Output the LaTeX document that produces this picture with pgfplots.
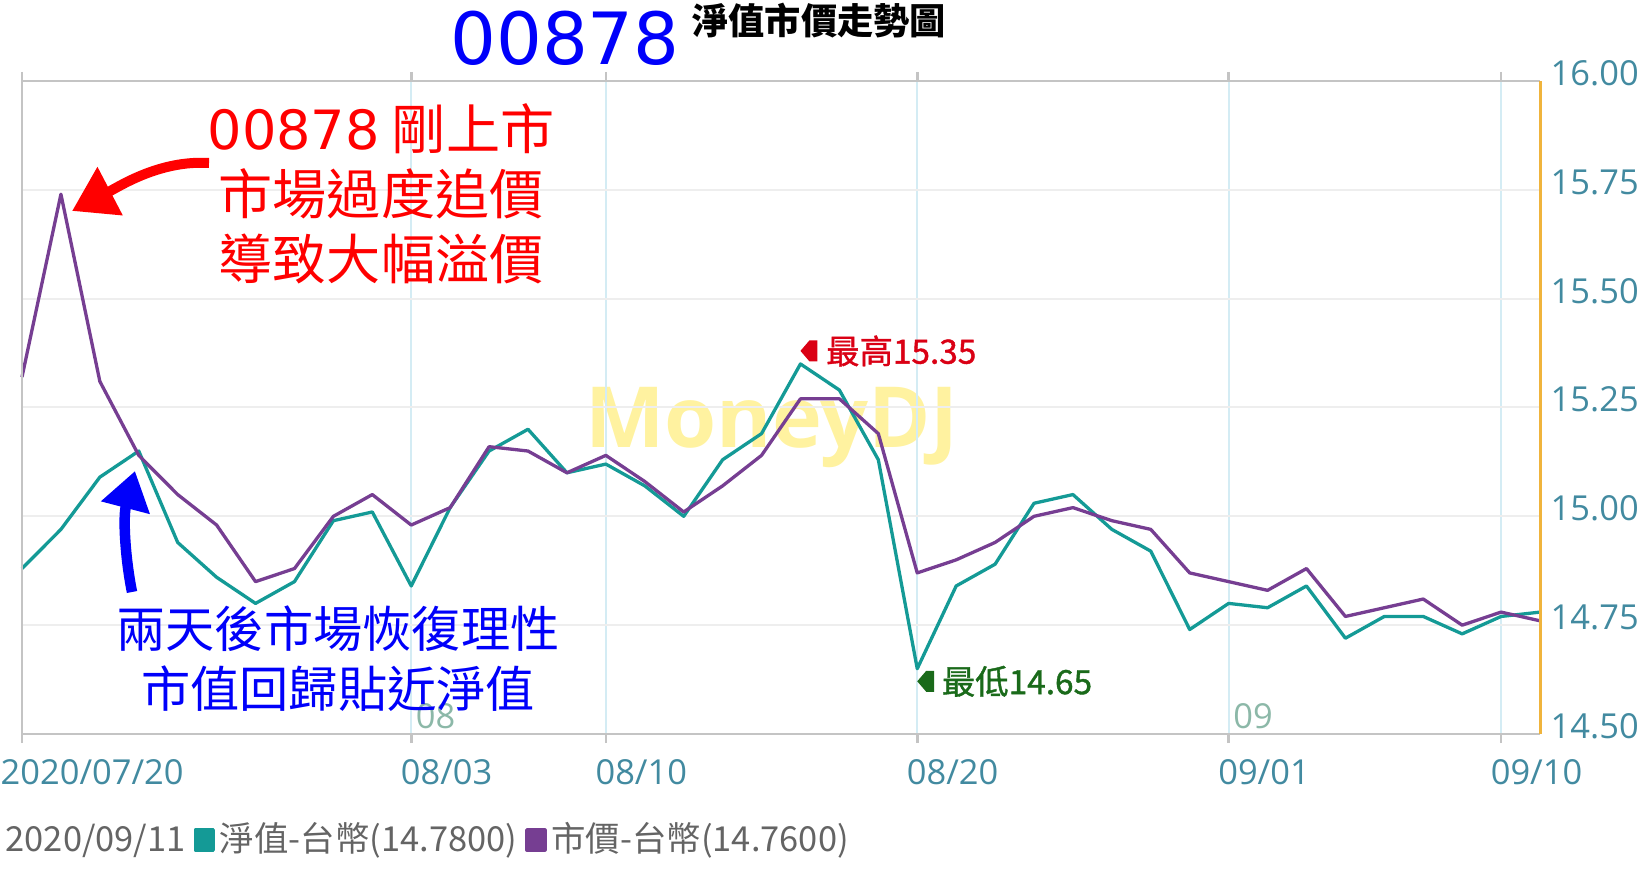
\documentclass[border=0pt]{standalone}
\usepackage{pgfplots}
\pgfplotsset{compat=1.18}
\usepackage{pgfplotstable}
\usepackage{fontspec}
\usetikzlibrary{arrows.meta}
\setmainfont{Noto Sans CJK TC}
\newfontfamily\latin{Open Sans}
\newfontfamily\dejavu{DejaVu Sans}
\newfontfamily\thick[FakeBold=1.2]{Noto Sans CJK TC}

\definecolor{navcol}{RGB}{20,154,150}
\definecolor{pricecol}{RGB}{118,62,146}
\definecolor{ticklab}{RGB}{66,138,160}
\definecolor{leggray}{RGB}{100,100,100}
\definecolor{gridh}{RGB}{238,238,238}
\definecolor{gridv}{RGB}{212,236,244}
\definecolor{axisgray}{RGB}{196,196,196}
\definecolor{axisorange}{RGB}{240,180,60}
\definecolor{monthlab}{RGB}{140,184,168}
\definecolor{hired}{RGB}{218,0,20}
\definecolor{logreen}{RGB}{26,106,26}
\definecolor{annred}{RGB}{255,0,0}
\definecolor{annblue}{RGB}{0,0,250}
\definecolor{watermark}{RGB}{255,242,160}

% day index 0 = 2020/07/20 ... 39 = 2020/09/11
\pgfplotstableread{
day nav   price
0   14.88 15.32
1   14.97 15.74
2   15.09 15.31
3   15.15 15.14
4   14.94 15.05
5   14.86 14.98
6   14.80 14.85
7   14.85 14.88
8   14.99 15.00
9   15.01 15.05
10  14.84 14.98
11  15.02 15.02
12  15.15 15.16
13  15.20 15.15
14  15.10 15.10
15  15.12 15.14
16  15.07 15.08
17  15.00 15.01
18  15.13 15.07
19  15.19 15.14
20  15.35 15.27
21  15.29 15.27
22  15.13 15.19
23  14.65 14.87
24  14.84 14.90
25  14.89 14.94
26  15.03 15.00
27  15.05 15.02
28  14.97 14.99
29  14.92 14.97
30  14.74 14.87
31  14.80 14.85
32  14.79 14.83
33  14.84 14.88
34  14.72 14.77
35  14.77 14.79
36  14.77 14.81
37  14.73 14.75
38  14.77 14.78
39  14.78 14.76
}\etfdata

\begin{document}
\begin{tikzpicture}
% watermark behind everything
\node[anchor=base, text=watermark, font=\latin\bfseries\fontsize{24}{24}\selectfont] at (77.2mm,42.4mm) {MoneyDJ};

\begin{axis}[
    at={(2.2mm,13.8mm)}, anchor=south west,
    scale only axis, width=151.8mm, height=65.3mm,
    xmin=0, xmax=39, ymin=14.5, ymax=16,
    clip=false,
    axis line style={draw=none},
    xtick={0,10,15,23,31,38},
    xticklabels={{\hspace*{-1.1mm}2020/07/20},08/03,08/10,08/20,09/01,09/10},
    ytick={14.5,14.75,15,15.25,15.5,15.75,16},
    yticklabel pos=right,
    xmajorgrids, ymajorgrids,
    x grid style={gridv, line width=0.2mm},
    y grid style={gridh, line width=0.2mm},
    tick align=outside,
    major tick length=0.9mm,
    xtick style={axisgray, line width=0.27mm},
    ytick style={draw=none},
    ticklabel style={font=\latin\fontsize{9.8}{11}\selectfont, text=ticklab, inner sep=0pt},
    xticklabel style={anchor=base west, xshift=-1.1mm, yshift=-4.1mm},
    yticklabel style={anchor=base west, xshift=0.1mm, yshift=-0.45mm,
        /pgf/number format/fixed, /pgf/number format/fixed zerofill,
        /pgf/number format/precision=2},
    /pgf/number format/assume math mode=true,
    legend columns=-1,
    legend style={at={(axis description cs:-0.0145,-0.1623)}, anchor=west,
        draw=none, fill=none, inner sep=0pt, text=leggray,
        font=\fontsize{9.8}{12}\selectfont,
        nodes={inner sep=0.5mm},
        /tikz/every even column/.append style={column sep=0.3mm}},
    legend image code/.code={\fill[#1] (0mm,-1mm) rectangle (1.8mm,1mm);},
]
\addlegendimage{empty legend}
\addlegendentry{2020/09/11}

\addplot[navcol, line width=0.33mm, line join=round] table[x=day, y=nav] {\etfdata};
\addlegendentry{淨值-台幣(14.7800)}

\addplot[pricecol, line width=0.33mm, line join=round] table[x=day, y=price] {\etfdata};
\addlegendentry{市價-台幣(14.7600)}

% frame
\draw[axisgray, line width=0.2mm] (rel axis cs:1,1) -- (rel axis cs:0,1) -- (rel axis cs:0,0);
\draw[axisgray, line width=0.27mm] (rel axis cs:0,0) -- (rel axis cs:1,0);
\draw[axisorange, line width=0.3mm] (rel axis cs:1,0) -- (rel axis cs:1,1);

% month marks
\node[anchor=south west, inner sep=0pt, text=monthlab, font=\latin\fontsize{9.8}{11}\selectfont]
    at ([xshift=0.4mm, yshift=0.4mm]axis cs:10,14.5) {08};
\node[anchor=south west, inner sep=0pt, text=monthlab, font=\latin\fontsize{9.8}{11}\selectfont]
    at ([xshift=0.4mm, yshift=0.4mm]axis cs:31,14.5) {09};

% high / low flags
\fill[hired] (axis cs:20,15.38) -- ++(0.9mm,1.05mm) -- ++(0.8mm,0mm) -- ++(0mm,-2.1mm) -- ++(-0.8mm,0mm) -- cycle;
\node[anchor=west, inner sep=0pt, text=hired, font=\thick\fontsize{9.5}{11}\selectfont]
    at ([xshift=2.5mm]axis cs:20,15.38) {最高15.35};
\fill[logreen] (axis cs:23,14.621) -- ++(0.9mm,1.05mm) -- ++(0.8mm,0mm) -- ++(0mm,-2.1mm) -- ++(-0.8mm,0mm) -- cycle;
\node[anchor=west, inner sep=0pt, text=logreen, font=\thick\fontsize{9.5}{11}\selectfont]
    at ([xshift=2.4mm]axis cs:23,14.621) {最低14.65};
\end{axis}

% title
\node[text=annblue, font=\dejavu\fontsize{20.5}{21}\selectfont] at (56.5mm,83.4mm) {00878};
\node[anchor=west, font=\bfseries\fontsize{10.3}{12}\selectfont] at (68.0mm,85.1mm) {淨值市價走勢圖};

% annotations
\node[text=annred, align=center, font=\fontsize{15.4}{18.4}\selectfont] at (38.1mm,67.8mm)
    {{\dejavu 00878} 剛上市\\市場過度追價\\導致大幅溢價};
\draw[annred, line width=1mm, -{Triangle[length=4.3mm,width=5.2mm]}]
    (20.9mm,70.9mm) .. controls (16mm,71.2mm) and (12mm,68.6mm) .. (7.2mm,66.1mm);

\node[text=annblue, align=center, font=\fontsize{14}{17}\selectfont] at (33.8mm,21.3mm)
    {兩天後市場恢復理性\\市值回歸貼近淨值};
\draw[annblue, line width=1.05mm, -{Triangle[length=3.8mm,width=4.8mm]}]
    (13.2mm,28.0mm) .. controls (12.5mm,31.5mm) and (12.3mm,35.5mm) .. (13.5mm,40.1mm);

\pgfresetboundingbox
\path[use as bounding box] (0,0) rectangle (165.2mm,87.2mm);
\end{tikzpicture}
\end{document}
